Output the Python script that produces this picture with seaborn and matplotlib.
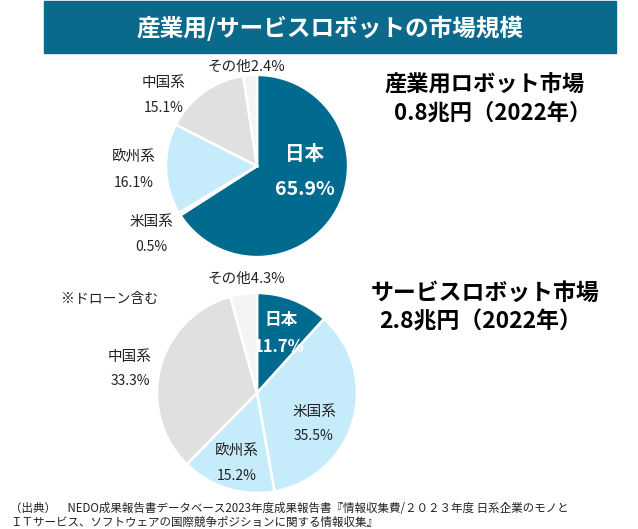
import matplotlib
matplotlib.use("Agg")
import matplotlib.pyplot as plt
import seaborn as sns
from matplotlib.patches import Rectangle

# data
regions = ["日本", "米国系", "欧州系", "中国系", "その他"]
industrial_share = [65.9, 0.5, 16.1, 15.1, 2.4]
service_share = [11.7, 35.5, 15.2, 33.3, 4.3]

title = "産業用/サービスロボットの市場規模"
industrial_title = ["産業用ロボット市場", "0.8兆円（2022年）"]
service_title = ["サービスロボット市場", "2.8兆円（2022年）"]
drone_note = "※ドローン含む"
source_lines = [
    "（出典）　NEDO成果報告書データベース2023年度成果報告書『情報収集費/２０２３年度 日系企業のモノと",
    "ＩＴサービス、ソフトウェアの国際競争ポジションに関する情報収集』",
]

sns.set_theme(style="white")
plt.rcParams["font.family"] = ["Noto Sans CJK JP", "DejaVu Sans"]

teal = "#006b8f"
colors = [teal, "#c6ebfb", "#c6ebfb", "#e0e0e0", "#f4f4f4"]

W, H = 638, 529
fig = plt.figure(figsize=(W / 100, H / 100), dpi=100)
fig.patch.set_facecolor("white")


def px(x, y):
    return x / W, 1 - y / H


def draw_pie(values, cx, cy, r):
    ax = fig.add_axes([(cx - r) / W, 1 - (cy + r) / H, 2 * r / W, 2 * r / H])
    ax.pie(values, colors=colors, startangle=90, counterclock=False, radius=1,
           wedgeprops=dict(edgecolor="white", linewidth=1.8))
    ax.set_xlim(-1.01, 1.01)
    ax.set_ylim(-1.01, 1.01)
    ax.axis("off")
    return ax


# title bar
fig.patches.append(Rectangle(px(44, 53), (616 - 44) / W, 52 / H,
                             transform=fig.transFigure, color="#0b6a8c", zorder=0))
fig.text(*px(330, 28), title, color="white", fontsize=17, fontweight="bold",
         ha="center", va="center")

# industrial pie
ax1 = draw_pie(industrial_share, 257, 166, 92)

top_pos = [(305, 155), (151, 222), (134, 158), (164, 83)]
for name, val, (x, y) in zip(regions[:4], industrial_share[:4], top_pos):
    if name == "日本":
        fig.text(*px(x, y), name, color="white", fontsize=14, fontweight="bold",
                 ha="center", va="center")
        fig.text(*px(x, y + 34), f"{val}%", color="white", fontsize=14,
                 fontweight="bold", ha="center", va="center")
    else:
        fig.text(*px(x, y), name, color="#222222", fontsize=10.5, ha="center", va="center")
        fig.text(*px(x, y + 25), f"{val}%", color="#222222", fontsize=10,
                 ha="center", va="center")
fig.text(*px(246, 67), f"{regions[4]}{industrial_share[4]}%", color="#222222",
         fontsize=10.5, ha="center", va="center")

fig.text(*px(485, 85), industrial_title[0], fontsize=16, fontweight="bold",
         ha="center", va="center", color="black")
fig.text(*px(493, 113), industrial_title[1], fontsize=16, fontweight="bold",
         ha="center", va="center", color="black")

# service pie
ax2 = draw_pie(service_share, 257, 393, 101)

bot_pos = [(281, 320), (314, 412), (237, 452), (130, 357)]
for name, val, (x, y) in zip(regions[:4], service_share[:4], bot_pos):
    if name == "日本":
        fig.text(*px(x, y), name, color="white", fontsize=12, fontweight="bold",
                 ha="center", va="center")
        fig.text(*px(x - 2, y + 27), f"{val}%", color="white", fontsize=12,
                 fontweight="bold", ha="center", va="center")
    else:
        fig.text(*px(x, y), name, color="#222222", fontsize=10.5, ha="center", va="center")
        fig.text(*px(x, y + 24), f"{val}%", color="#222222", fontsize=10,
                 ha="center", va="center")
fig.text(*px(246, 279), f"{regions[4]}{service_share[4]}%", color="#222222",
         fontsize=10.5, ha="center", va="center")
fig.text(*px(110, 299), drone_note, color="#222222", fontsize=10,
         ha="center", va="center")

fig.text(*px(485, 293), service_title[0], fontsize=16.5, fontweight="bold",
         ha="center", va="center", color="black")
fig.text(*px(481, 322), service_title[1], fontsize=16.5, fontweight="bold",
         ha="center", va="center", color="black")

# source
for i, line in enumerate(source_lines):
    fig.text(*px(10, 509 + 13 * i), line, fontsize=8.3, color="#222222",
             ha="left", va="center")

fig.savefig("out.png", dpi=100, facecolor="white")
